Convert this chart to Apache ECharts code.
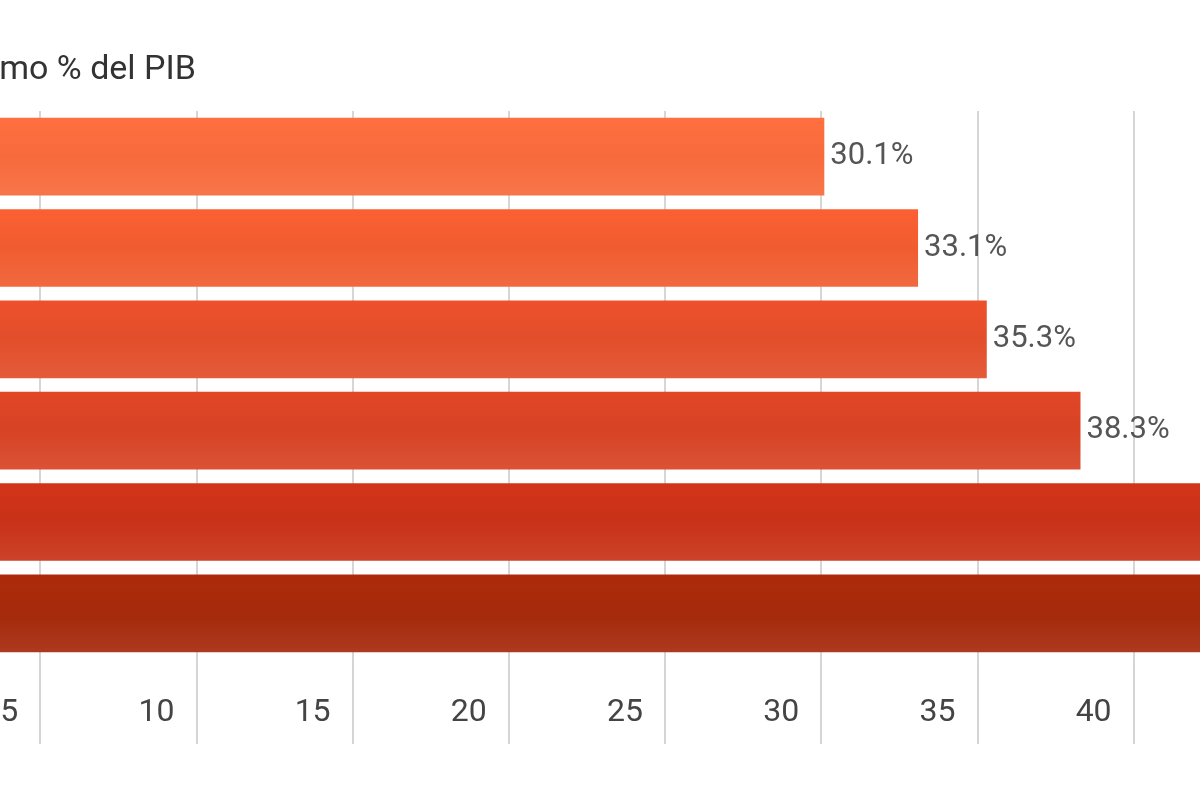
<!DOCTYPE html>
<html>
<head>
<meta charset="utf-8">
<script src="https://cdn.jsdelivr.net/npm/echarts@6/dist/echarts.min.js"></script>
<style>
html,body{margin:0;padding:0;background:#fff;overflow:hidden;width:1200px;height:800px;}
#main{position:absolute;left:-119px;top:0;width:1565px;height:800px;}
</style>
</head>
<body>
<div id="main"></div>
<script>
// valores (las dos últimas barras salen del recorte, estimadas)
var categories = ['A', 'B', 'C', 'D', 'E', 'F'];
var values = [30.1, 33.1, 35.3, 38.3, 46.5, 49.0];
var barColors = ['#f76a3c', '#f05c30', '#e24e2a', '#d74325', '#c83218', '#a5290b'];
var tickLabels = { 5: '5', 10: '10', 15: '15', 20: '20', 25: '25', 30: '30', 35: '35', 40: '40', 45: '45', 50: '50' };

var chart = echarts.init(document.getElementById('main'));

var data = values.map(function (v, i) {
    return {
        value: v,
        itemStyle: {
            color: new echarts.graphic.LinearGradient(0, 0, 0, 1, [
                { offset: 0, color: echarts.color.lift(barColors[i], -0.05) },
                { offset: 0.5, color: barColors[i] },
                { offset: 1, color: echarts.color.lift(barColors[i], 0.08) }
            ])
        }
    };
});

chart.setOption({
    backgroundColor: '#ffffff',
    title: {
        text: 'como % del PIB',
        left: 119 - 43,
        top: 48,
        textStyle: { fontFamily: 'Roboto', fontSize: 34, fontWeight: 'normal', color: '#333' }
    },
    grid: { left: 0, right: 0, top: 111, bottom: 141 },
    xAxis: {
        type: 'value',
        min: 0,
        max: 50,
        interval: 5,
        axisLine: { show: false },
        axisTick: { show: true, length: 85, lineStyle: { color: '#c8c8c8', width: 1.5 } },
        splitLine: { show: true, lineStyle: { color: '#c8c8c8', width: 1.5 } },
        axisLabel: {
            margin: 38,
            align: 'right',
            padding: [0, 22, 0, 0],
            fontFamily: 'Roboto',
            fontSize: 32,
            color: '#444',
            formatter: function (v) { return tickLabels[v] || ''; }
        }
    },
    yAxis: {
        type: 'category',
        inverse: true,
        data: categories,
        axisLine: { show: false },
        axisTick: { show: false },
        axisLabel: { show: false }
    },
    series: [{
        type: 'bar',
        data: data,
        barWidth: '85%',
        z: 3,
        label: {
            show: true,
            position: 'right',
            distance: 6,
            fontFamily: 'Roboto',
            fontSize: 31,
            color: '#555',
            formatter: function (p) { return p.value.toFixed(1) + '%'; }
        }
    }]
});
</script>
</body>
</html>
